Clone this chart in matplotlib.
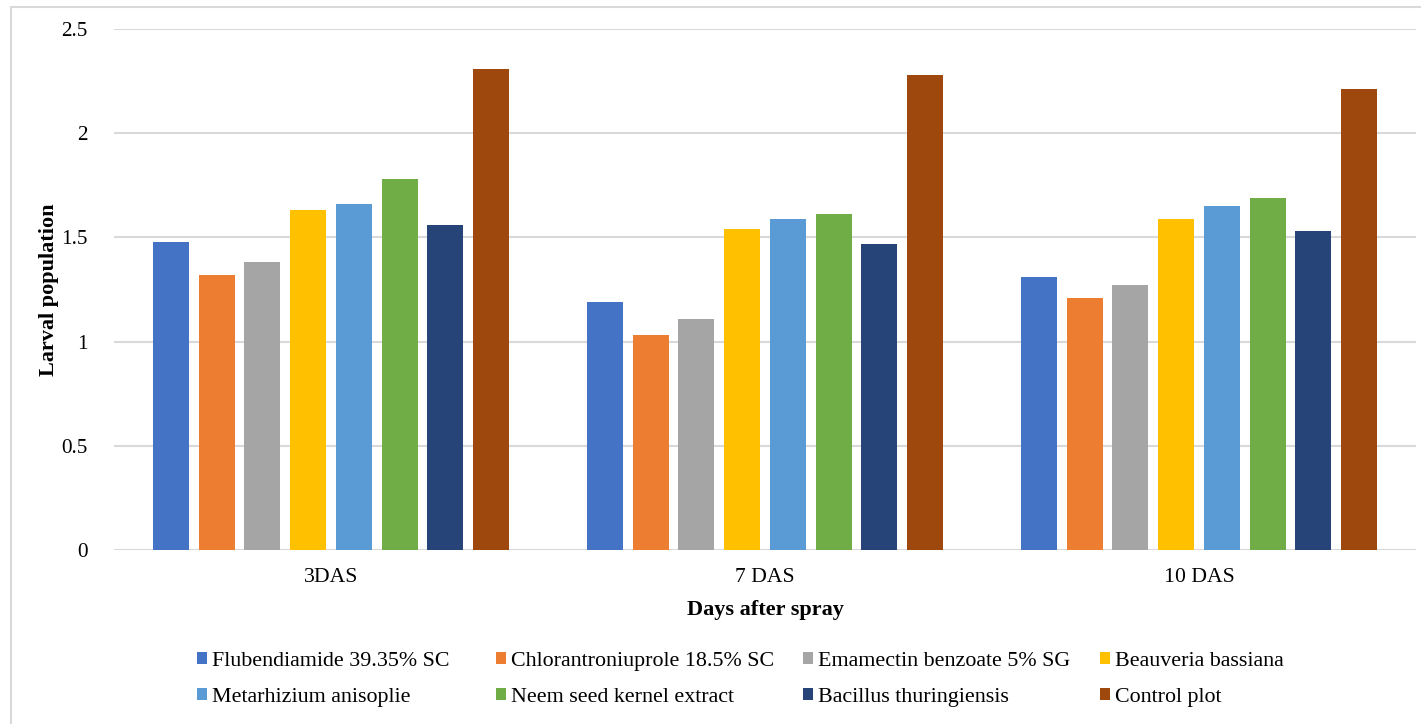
import numpy as np
import matplotlib
matplotlib.use("Agg")
import matplotlib.pyplot as plt
from matplotlib.patches import Rectangle

plt.rcParams['font.family'] = ['Liberation Serif', 'DejaVu Serif']

days = ["3DAS", "7 DAS", "10 DAS"]
treatments = ["Flubendiamide 39.35% SC", "Chlorantroniuprole 18.5% SC",
              "Emamectin benzoate 5% SG", "Beauveria bassiana",
              "Metarhizium anisoplie", "Neem seed kernel extract",
              "Bacillus thuringiensis", "Control plot"]

flubendiamide = [1.48, 1.19, 1.31]
chlorantraniliprole = [1.32, 1.03, 1.21]
emamectin = [1.38, 1.11, 1.27]
beauveria = [1.63, 1.54, 1.59]
metarhizium = [1.66, 1.59, 1.65]
neem = [1.78, 1.61, 1.69]
bacillus = [1.56, 1.47, 1.53]
control = [2.31, 2.28, 2.21]

series = [flubendiamide, chlorantraniliprole, emamectin, beauveria,
          metarhizium, neem, bacillus, control]
colors = ["#4472C4", "#ED7D31", "#A5A5A5", "#FFC000",
          "#5B9BD5", "#70AD47", "#264478", "#9E480E"]

fig = plt.figure(figsize=(14.21, 7.24), dpi=100)
ax = fig.add_axes([0.0802, 0.2403, 0.9163, 0.7197])

x = np.arange(len(days))
slot = 0.1053
bars = []
for i, vals in enumerate(series):
    b = ax.bar(x + (i - 3.5) * slot, vals, width=0.083, color=colors[i],
               label=treatments[i], zorder=3)
    bars.append(b)

ax.set_xlim(-0.5, 2.5)
ax.set_ylim(0, 2.5)
ax.set_yticks([0, 0.5, 1, 1.5, 2, 2.5])
ax.set_yticklabels(["0", "0.5", "1", "1.5", "2", "2.5"], fontsize=15.2)
ax.set_xticks(x)
ax.set_xticklabels(days, fontsize=15.6)
ax.tick_params(axis='x', length=0, pad=13)
ax.tick_params(axis='y', length=0, pad=19)
ax.grid(axis='y', color='#D9D9D9', linewidth=1.5, zorder=0)
for s in ax.spines.values():
    s.set_visible(False)

ax.set_ylabel("Larval population", fontsize=16, fontweight='bold')
ax.yaxis.set_label_coords(-0.0423, 0.5)
ax.set_xlabel("Days after spray", fontsize=16, fontweight='bold', labelpad=9)

# legend: 4 columns, row-wise order like Excel
col_x = [197, 496, 803, 1100]
for c in range(4):
    idx = [c, c + 4]
    leg = fig.legend([bars[k] for k in idx], [treatments[k] for k in idx],
                     loc='center left', bbox_to_anchor=(col_x[c] / 1421, 0.0615),
                     frameon=False,
                     prop={'family': 'Liberation Serif', 'size': 15.8},
                     handlelength=0.45, handleheight=0.45, handletextpad=0.25,
                     labelspacing=0.77, borderpad=0, borderaxespad=0)

fig.patches.append(Rectangle((11 / 1421, -0.1), 1.2, 1 - 7 / 724 + 0.1,
                             transform=fig.transFigure, fill=False,
                             edgecolor='#D9D9D9', linewidth=1.5))

fig.savefig("out.png", dpi=100)
